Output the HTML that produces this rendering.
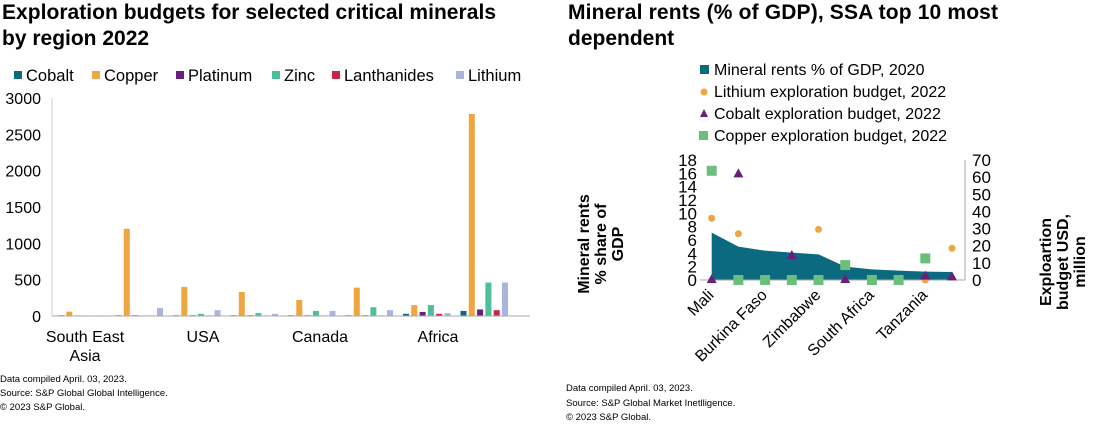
<!DOCTYPE html>
<html><head><meta charset="utf-8"><style>
body{margin:0;background:#fff;width:1115px;height:425px;overflow:hidden;font-family:"Liberation Sans",Arial,sans-serif}
svg text{font-family:"Liberation Sans",Arial,sans-serif}
</style></head><body>
<svg id="s" width="1115" height="425">
<text x="2" y="19" font-size="21" font-weight="bold" fill="#000" textLength="494">Exploration budgets for selected critical minerals</text>
<text x="2" y="45" font-size="21" font-weight="bold" fill="#000">by region 2022</text>
<text x="568" y="19" font-size="21" font-weight="bold" fill="#000" textLength="430">Mineral rents (% of GDP), SSA top 10 most</text>
<text x="568" y="45" font-size="21" font-weight="bold" fill="#000">dependent</text>
<g id="leftLegend"></g>
<g id="left"></g>
<g id="right"></g>
<text x="0" y="382" font-size="9.5" fill="#000">Data compiled April. 03, 2023.</text>
<text x="0" y="396" font-size="9.5" fill="#000">Source: S&amp;P Global Global Intelligence.</text>
<text x="0" y="410" font-size="9.5" fill="#000">© 2023 S&amp;P Global.</text>
<text x="566" y="391" font-size="9.5" fill="#000">Data compiled April. 03, 2023.</text>
<text x="566" y="406" font-size="9.5" fill="#000">Source: S&amp;P Global Market Inetlligence.</text>
<text x="566" y="420" font-size="9.5" fill="#000">© 2023 S&amp;P Global.</text>
</svg>
<script>
const minerals=["Cobalt","Copper","Platinum","Zinc","Lanthanides","Lithium"];
const mineralColors=["#0b6a80","#f0a640","#6b1f7a","#4dbf99","#c8234a","#a9b4e0"];
const cobaltVals=[10,10,10,10,10,10,30,70];
const copperVals=[60,1200,400,330,220,390,150,2780];
const platinumVals=[8,10,10,10,10,10,55,90];
const zincVals=[8,8,30,40,70,120,150,460];
const lanthVals=[5,8,8,8,8,8,30,80];
const lithiumVals=[8,110,80,30,70,80,40,460];
const leftTicks=[0,500,1000,1500,2000,2500,3000];
const regionLabels=["South East","USA","Canada","Africa"];

const countries=["Mali","","Burkina Faso","","Zimbabwe","","South Africa","","Tanzania",""];
const rents=[7.1,5.0,4.4,4.1,3.85,2.0,1.6,1.4,1.25,1.2];
const lithiumBudget=[36,27,null,null,29.5,null,null,null,0,18.5];
const cobaltBudget=[0,61.6,null,14,null,0,null,null,2,1.5];
const copperBudget=[63.7,0,0,0,0,8.7,0,0,12.6,null];
const rentTicks=[0,2,4,6,8,10,12,14,16,18];
const budgetTicks=[0,10,20,30,40,50,60,70];

const NS="http://www.w3.org/2000/svg";
function mk(t,a,p){const e=document.createElementNS(NS,t);for(const k in a)e.setAttribute(k,a[k]);p.appendChild(e);return e;}

// left legend
const lg=document.getElementById('leftLegend');
const lgx=[14,92,176,272,332,456];
minerals.forEach((m,i)=>{
 const r=mk('rect',{x:lgx[i],y:71,width:8,height:8,fill:mineralColors[i]},lg);
 
 
 const t=mk('text',{x:lgx[i]+12,y:81,'font-size':16.5},lg);t.textContent=m;
 
 
});

// left chart
const L=document.getElementById('left');
const y0=316,ppu=218/3000;
const yL=v=>y0-v*ppu;
const gx0=54,gw=57.5;
leftTicks.forEach(v=>{const t=mk('text',{x:41,y:yL(v)+6,'font-size':16,'text-anchor':'end'},L);t.textContent=v;
 });
const series=[cobaltVals,copperVals,platinumVals,zincVals,lanthVals,lithiumVals];
for(let g=0;g<8;g++){
 series.forEach((s,i)=>{const v=s[g];
  const b=mk('rect',{x:gx0+g*gw+4+i*8.3,y:yL(v),width:6,height:v*ppu,fill:mineralColors[i]},L);
  
  });
}
mk('line',{x1:52,y1:y0,x2:530,y2:y0,stroke:'#aaa','stroke-width':1},L);
mk('line',{x1:52,y1:y0,x2:52,y2:y0-218,stroke:'#ccc','stroke-width':1},L);
const rlx=[85,203,320,438];
regionLabels.forEach((r,i)=>{const t=mk('text',{x:rlx[i],y:342,'font-size':16,'text-anchor':'middle'},L);t.textContent=r;
 });
const asia=mk('text',{x:85,y:361,'font-size':16,'text-anchor':'middle'},L);asia.textContent="Asia";


// right chart
const R=document.getElementById('right');
const legItems=[["Mineral rents % of GDP, 2020","rect","#0b6a80"],["Lithium exploration budget, 2022","circle","#f0a640"],["Cobalt exploration budget, 2022","tri","#6b1f7a"],["Copper exploration budget, 2022","sq","#6cbf7a"]];
legItems.forEach((it,i)=>{const y=70+i*22;let m;
 if(it[1]=="rect")m=mk('rect',{x:700,y:y-5,width:9,height:9,fill:it[2]},R);
 else if(it[1]=="circle")m=mk('circle',{cx:704,cy:y,r:3.5,fill:it[2]},R);
 else if(it[1]=="tri")m=mk('polygon',{points:`${704},${y-5} ${708},${y+3} ${700},${y+3}`,fill:it[2]},R);
 else m=mk('rect',{x:699,y:y-5,width:9,height:9,fill:it[2]},R);
 
 const t=mk('text',{x:714,y:y+5,'font-size':16},R);t.textContent=it[0];
 });
const rb=280,rt=160;
const yR1=v=>rb-v*(rb-rt)/18;
const yR2=v=>rb-v*(rb-rt)/70;
const xR=i=>711.7+i*26.7;
rentTicks.forEach(v=>{const t=mk('text',{x:697,y:yR1(v)+6,'font-size':17,'text-anchor':'end'},R);t.textContent=v;
 });
budgetTicks.forEach(v=>{const t=mk('text',{x:972,y:yR2(v)+6,'font-size':17},R);t.textContent=v;
 });
let d=`M${xR(0)},${rb}`;rents.forEach((v,i)=>d+=` L${xR(i)},${yR1(v)}`);d+=` L${xR(rents.length-1)},${rb}Z`;
const ar=mk('path',{d:d,fill:'#0b6a80'},R);
mk('line',{x1:700,y1:rb,x2:965,y2:rb,stroke:'#aaa'},R);
mk('line',{x1:965,y1:rb,x2:965,y2:rt,stroke:'#aaa'},R);
lithiumBudget.forEach((v,i)=>{if(v===null)return;const c=mk('circle',{cx:xR(i),cy:yR2(v),r:3.5,fill:'#f0a640'},R);
 });
copperBudget.forEach((v,i)=>{if(v===null)return;const y=yR2(v);const c=mk('rect',{x:xR(i)-5,y:y-5,width:10,height:10,fill:'#6cbf7a'},R);
 });
cobaltBudget.forEach((v,i)=>{if(v===null)return;const x=xR(i),y=yR2(v);const c=mk('polygon',{points:`${x},${y-6} ${x+5},${y+3} ${x-5},${y+3}`,fill:'#6b1f7a'},R);
 });
countries.forEach((c,i)=>{if(!c)return;const x=xR(i)+3,y=rb+16;
 const t=mk('text',{x:x,y:y,'font-size':16,'text-anchor':'end',transform:`rotate(-45 ${x} ${y})`},R);t.textContent=c;
 });
function vt(lines,x,y,sp){lines.forEach((l,i)=>{const xx=x+i*sp;const t=mk('text',{x:xx,y:y,'font-size':16,'font-weight':'bold','text-anchor':'middle',transform:`rotate(-90 ${xx} ${y})`},R);t.textContent=l;
 });}
vt(["Mineral  rents","% share of","GDP"],589,244,17);
vt(["Exploartion","budget USD,","million"],1051,262,17);
</script>
</body></html>
